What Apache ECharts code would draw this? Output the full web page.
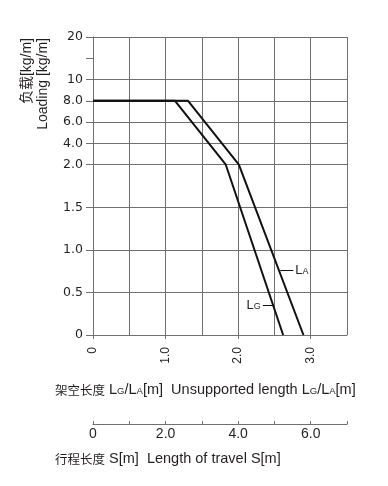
<!DOCTYPE html>
<html><head><meta charset="utf-8">
<script src="https://cdn.jsdelivr.net/npm/echarts@6/dist/echarts.min.js"></script>
<style>html,body{margin:0;padding:0;background:#fff}#c{width:388px;height:486px}</style>
</head><body><div id="c"></div>
<script>
// Y axis: real tick values and their places on the (piecewise) scale
const yTickValues = [0, 0.5, 1.0, 1.5, 2.0, 4.0, 6.0, 8.0, 10, 20];
const yTickLabels = ['0', '0.5', '1.0', '1.5', '2.0', '4.0', '6.0', '8.0', '10', '20'];
const yTickSlots  = [0, 1, 2, 3, 4, 4.5, 5, 5.5, 6, 7];
const yExtraTickSlots = [6.5];
// X axis (unsupported length)
const xTickValues = [0, 1, 2, 3];
const xTickLabels = ['0', '1.0', '2.0', '3.0'];
// Travel axis
const travelLabelValues = [0, 2, 4, 6];
const travelLabels = ['0', '2.0', '4.0', '6.0'];
// Series (x: length [m], y: load [kg/m])
const laX = [0, 1.31, 2.01, 2.90];
const laY = [8.0, 8.0, 2.0, 0];
const lgX = [0, 1.13, 1.83, 2.62];
const lgY = [8.0, 8.0, 2.0, 0];
// Leader lines for curve labels [x0, x1, y]
const laLeader = [2.58, 2.76, 0.763];
const lgLeader = [2.34, 2.48, 0.352];

function toSlot(v) {
  for (let i = 0; i < yTickValues.length - 1; i++) {
    const a = yTickValues[i], b = yTickValues[i + 1];
    if (v >= a && v <= b) return yTickSlots[i] + (v - a) / (b - a) * (yTickSlots[i + 1] - yTickSlots[i]);
  }
  return yTickSlots[yTickSlots.length - 1];
}
const pairs = (xs, ys) => xs.map((x, i) => [x, toSlot(ys[i])]);

const GRID = '#6f6f6f';
const TXT = '#231f20';
const subRich = {
  l: { fontFamily: 'Liberation Sans', fontSize: 13, color: TXT, lineHeight: 14 },
  s: { fontFamily: 'Liberation Sans', fontSize: 9, color: TXT, lineHeight: 14, verticalAlign: 'bottom', padding: [0, 0, 1, 0] }
};

const chart = echarts.init(document.getElementById('c'));
chart.setOption({
  animation: false,
  backgroundColor: '#fff',
  grid: [
    { left: 93, top: 37, width: 254, height: 298 },
    { left: 93, top: 423, width: 254, height: 1 }
  ],
  xAxis: [
    { type: 'value', gridIndex: 0, min: 0, max: 3.5, interval: 0.5,
      axisLine: { show: true, lineStyle: { color: GRID, width: 1 } },
      axisTick: { show: false }, axisLabel: { show: false },
      splitLine: { show: true, lineStyle: { color: GRID, width: 1 } } },
    { type: 'value', gridIndex: 0, position: 'bottom', min: 0, max: 3.5, interval: 0.5,
      axisLine: { show: false },
      axisTick: { show: true, length: 4, customValues: xTickValues, lineStyle: { color: GRID } },
      axisLabel: { show: true, customValues: xTickValues, rotate: 90, margin: 12,
        fontFamily: 'Liberation Sans', fontSize: 12, color: TXT,
        formatter: v => xTickLabels[xTickValues.indexOf(v)] },
      splitLine: { show: false } },
    { type: 'value', gridIndex: 1, min: 0, max: 7, interval: 1,
      axisLine: { show: true, lineStyle: { color: GRID, width: 1.2 } },
      axisTick: { show: true, inside: true, length: 3, lineStyle: { color: GRID } },
      axisLabel: { show: true, customValues: travelLabelValues, margin: 3,
        fontFamily: 'Liberation Sans', fontSize: 14, color: TXT,
        formatter: v => travelLabels[travelLabelValues.indexOf(v)] },
      splitLine: { show: false } }
  ],
  yAxis: [
    { type: 'value', gridIndex: 0, min: 0, max: 7,
      axisLine: { show: true, lineStyle: { color: GRID } },
      axisTick: { show: true, length: 7, customValues: yTickSlots, lineStyle: { color: GRID } },
      axisLabel: { show: true, customValues: yTickSlots, margin: 10,
        fontFamily: 'DejaVu Sans', fontSize: 12.5, color: TXT,
        formatter: v => yTickLabels[yTickSlots.indexOf(v)] },
      splitLine: { show: true, lineStyle: { color: GRID, width: 1 } } },
    { type: 'value', gridIndex: 0, position: 'left', min: 0, max: 7,
      axisLine: { show: false },
      axisTick: { show: true, length: 7, customValues: yExtraTickSlots, lineStyle: { color: GRID } },
      axisLabel: { show: false }, splitLine: { show: false } },
    { type: 'value', gridIndex: 1, show: false, min: 0, max: 1 }
  ],
  series: [
    { name: 'LA', type: 'line', xAxisIndex: 0, yAxisIndex: 0, data: pairs(laX, laY),
      symbol: 'none', lineStyle: { color: '#111', width: 2 }, silent: true,
      markLine: { silent: true, symbol: ['none', 'none'], animation: false,
        lineStyle: { color: '#111', width: 1, type: 'solid' },
        label: { show: true, position: 'end', distance: 2, formatter: '{l|L}{s|A}', rich: subRich },
        data: [[{ coord: [laLeader[0], toSlot(laLeader[2])] }, { coord: [laLeader[1], toSlot(laLeader[2])] }]] } },
    { name: 'LG', type: 'line', xAxisIndex: 0, yAxisIndex: 0, data: pairs(lgX, lgY),
      symbol: 'none', lineStyle: { color: '#111', width: 2 }, silent: true,
      markLine: { silent: true, symbol: ['none', 'none'], animation: false,
        lineStyle: { color: '#111', width: 1, type: 'solid' },
        label: { show: true, position: 'start', distance: 2, formatter: '{l|L}{s|G}', rich: subRich },
        data: [[{ coord: [lgLeader[0], toSlot(lgLeader[2])] }, { coord: [lgLeader[1], toSlot(lgLeader[2])] }]] } }
  ],
  graphic: [
    { type: 'text', x: 27, y: 38, rotation: Math.PI / 2,
      style: { text: '负载[kg/m]', fill: TXT, font: '14px "Liberation Sans", "Noto Sans CJK SC"', align: 'right', verticalAlign: 'middle' } },
    { type: 'text', x: 43.5, y: 38, rotation: Math.PI / 2,
      style: { text: 'Loading [kg/m]', fill: TXT, font: '14px "Liberation Sans"', align: 'right', verticalAlign: 'middle' } },
    { type: 'text', x: 55, y: 390,
      style: { text: '{c|架空长度} L{s|G}/L{s|A}[m]  Unsupported length L{s|G}/L{s|A}[m]', fill: TXT,
        font: '14.5px "Liberation Sans"', align: 'left', verticalAlign: 'middle',
        rich: { c: { fontFamily: 'Noto Sans CJK SC', fontSize: 12.5, fill: TXT, lineHeight: 16 },
                s: { fontFamily: 'Liberation Sans', fontSize: 9.5, fill: TXT, lineHeight: 16, verticalAlign: 'bottom', padding: [0, 0, 2, 0] } } } },
    { type: 'text', x: 55, y: 459,
      style: { text: '{c|行程长度} S[m]  Length of travel S[m]', fill: TXT,
        font: '14.5px "Liberation Sans"', align: 'left', verticalAlign: 'middle',
        rich: { c: { fontFamily: 'Noto Sans CJK SC', fontSize: 12.5, fill: TXT, lineHeight: 16 } } } }
  ]
});
</script></body></html>
